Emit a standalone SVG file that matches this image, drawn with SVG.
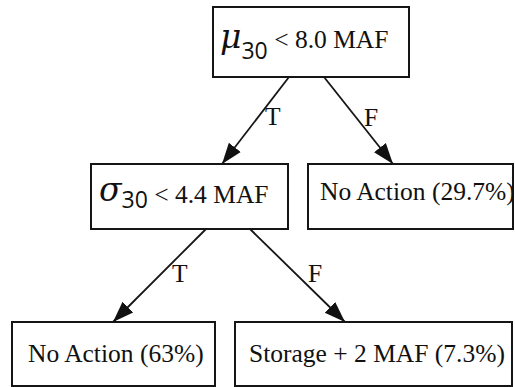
<svg xmlns="http://www.w3.org/2000/svg" width="515" height="387" viewBox="0 0 515 387">
  <style>
    .box { fill: #ffffff; stroke: #151515; stroke-width: 2; }
    .lbl { font-family: "Liberation Serif", "Times New Roman", serif; font-size: 25.5px; fill: #111111; }
    .sym { font-family: "DejaVu Serif", serif; font-style: italic; font-size: 33px; fill: #111111; }
    .sub { font-family: "Open Sans", "Noto Sans", sans-serif; font-size: 23px; fill: #111111; }
    .edge { stroke: #151515; stroke-width: 1.8; fill: none; marker-end: url(#arrow); }
  </style>
  <defs>
    <marker id="arrow" markerUnits="userSpaceOnUse" markerWidth="22" markerHeight="18" viewBox="0 0 22 18" refX="21" refY="9" orient="auto">
      <path d="M0,1.5 L21,9 L0,16.5 Z" fill="#111111"/>
    </marker>
  </defs>
  <rect width="515" height="387" fill="#ffffff"/>

  <!-- decision edges -->
  <g id="edges">
    <line class="edge" x1="289" y1="77" x2="222" y2="164"/>
    <text class="lbl" x="265" y="125">T</text>
    <line class="edge" x1="324" y1="77" x2="393" y2="164"/>
    <text class="lbl" x="364" y="126">F</text>
    <line class="edge" x1="206" y1="229" x2="113" y2="322"/>
    <text class="lbl" x="172" y="282">T</text>
    <line class="edge" x1="250" y1="229" x2="345" y2="322"/>
    <text class="lbl" x="308" y="282">F</text>
  </g>

  <!-- root split on mean flow -->
  <g id="node-mu">
    <rect class="box" x="213" y="7" width="196" height="70"/>
    <text x="220" y="48"><tspan class="sym">μ</tspan><tspan class="sub" y="59">30</tspan><tspan class="lbl" y="48"> &lt; 8.0 MAF</tspan></text>
  </g>

  <!-- split on flow deviation -->
  <g id="node-sigma">
    <rect class="box" x="91" y="164" width="197" height="65"/>
    <text x="99" y="201"><tspan class="sym">σ</tspan><tspan class="sub" y="208">30</tspan><tspan class="lbl" y="203"> &lt; 4.4 MAF</tspan></text>
  </g>

  <g id="leaf-no-action-29">
    <rect class="box" x="308" y="164" width="205" height="65"/>
    <text class="lbl" x="320" y="200">No Action (29.7%)</text>
  </g>

  <g id="leaf-no-action-63">
    <rect class="box" x="12" y="322" width="203" height="64"/>
    <text class="lbl" x="28" y="362">No Action (63%)</text>
  </g>

  <g id="leaf-storage">
    <rect class="box" x="235" y="322" width="277" height="64"/>
    <text class="lbl" x="249" y="362">Storage + 2 MAF (7.3%)</text>
  </g>
</svg>
